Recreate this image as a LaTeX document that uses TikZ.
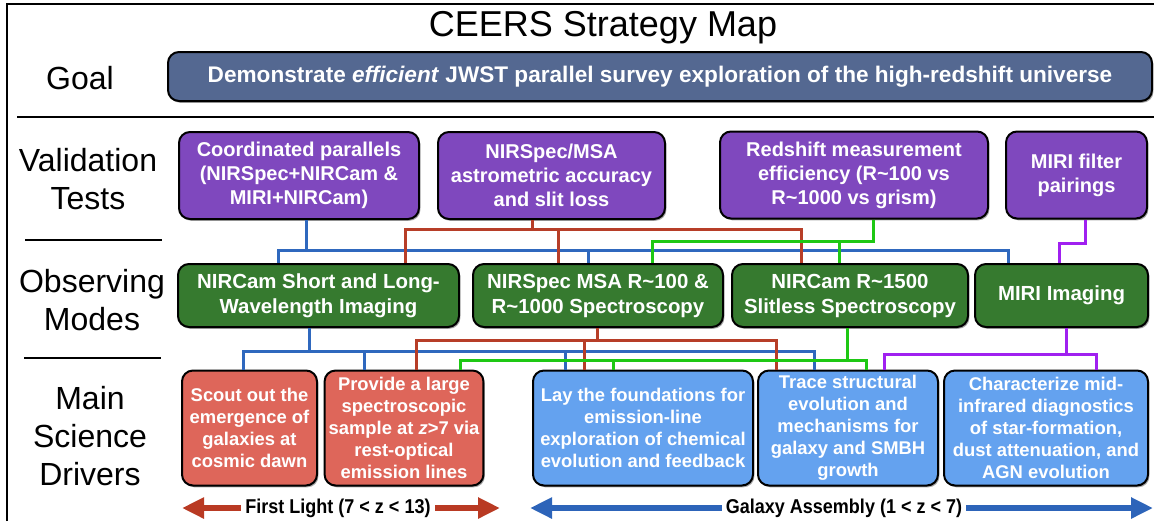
\documentclass[tikz,border=0pt]{standalone}
\usepackage{fontspec}
\setmainfont{Liberation Sans}
\newfontfamily\narrowfont[FakeStretch=0.9]{Liberation Sans}
\usetikzlibrary{arrows.meta, shadows, calc}
\definecolor{goalBlue}{RGB}{84,104,145}
\definecolor{valPurple}{RGB}{127,72,190}
\definecolor{modeGreen}{RGB}{54,122,47}
\definecolor{earlyRed}{RGB}{222,102,90}
\definecolor{lateBlue}{RGB}{100,162,239}
\definecolor{wireBlue}{RGB}{47,104,190}
\definecolor{wireRed}{RGB}{183,62,40}
\definecolor{wireGreen}{RGB}{30,200,20}
\definecolor{wirePurple}{RGB}{160,32,240}
\definecolor{arrowRed}{RGB}{185,58,35}
\definecolor{arrowBlue}{RGB}{45,100,185}
\tikzset{
    box/.style={draw=black, line width=1pt, rounded corners=5.5pt, text=white, align=center, inner sep=2pt,
        drop shadow={shadow xshift=0.7pt, shadow yshift=-0.9pt, opacity=0.35, fill=black}},
    goalBox/.style={box, fill=goalBlue, font=\bfseries\fontsize{11.3}{13.5}\selectfont},
    valBox/.style={box, fill=valPurple, minimum height=43.5pt, font=\bfseries\fontsize{10}{12}\selectfont},
    modeBox/.style={box, fill=modeGreen, minimum height=31.5pt, font=\bfseries\fontsize{10.2}{12.5}\selectfont},
    earlyBox/.style={box, fill=earlyRed, minimum height=57.5pt, font=\bfseries\fontsize{9.2}{11}\selectfont},
    lateBox/.style={box, fill=lateBlue, minimum height=57.5pt, font=\bfseries\fontsize{9.2}{11}\selectfont},
    rowLabel/.style={align=center, font=\fontsize{16}{19}\selectfont},
    rowRule/.style={line width=1pt},
    wire/.style={line width=1.5pt},
    eraArrow/.style={line width=3pt, {Triangle[length=11pt,width=10pt]}-{Triangle[length=11pt,width=10pt]}},
    eraLabel/.style={fill=white, inner sep=2pt, font=\narrowfont\bfseries\fontsize{10}{12}\selectfont},
}
% one wire: down from a box, along a bus, down into the next box
\newcommand{\busLink}[6]{
    \draw[wire, draw=#1] (#2.south -| #3,0) -- (#3,#4) -| (#5.north -| #6,0);
}

\begin{document}
\begin{tikzpicture}[x=0.5pt, y=-0.5pt]
    \useasboundingbox (0,0) rectangle (1154,521);

    % frame and rules
    \draw[line width=1pt] (7,521) -- (7,4) -- (1154,4);
    \draw[rowRule] (17,117) -- (1154,117);
    \draw[rowRule] (25,240) -- (162,240);
    \draw[rowRule] (24,358) -- (161,358);

    \node[font=\fontsize{18}{22}\selectfont] (title) at (603,28) {CEERS Strategy Map};

    % row labels
    \node[rowLabel] (goalLab) at (80,78) {Goal};
    \node[rowLabel] (valLab) at (88,179) {Validation\\Tests};
    \node[rowLabel] (modeLab) at (92,300) {Observing\\Modes};
    \node[rowLabel] (sciLab) at (90,436) {Main\\Science\\Drivers};

    % goal
    \node[goalBox, minimum width=492pt, minimum height=24.5pt] (goal) at (660,76.5)
        {Demonstrate \textit{efficient} JWST parallel survey exploration of the high-redshift universe};

    % validation tests
    \node[valBox, minimum width=120pt] (V1) at (299,175.5) {Coordinated parallels\\(NIRSpec+NIRCam \&\\MIRI+NIRCam)};
    \node[valBox, minimum width=113.5pt] (V2) at (551.5,175.5) {NIRSpec/MSA\\astrometric accuracy\\and slit loss};
    \node[valBox, minimum width=134pt] (V3) at (854,175) {Redshift measurement\\efficiency (R\textasciitilde100 vs\\R\textasciitilde1000 vs grism)};
    \node[valBox, minimum width=70.5pt] (V4) at (1076.5,175) {MIRI filter\\pairings};

    % observing modes
    \node[modeBox, minimum width=140.5pt] (O1) at (318.5,295.5) {NIRCam Short and Long-\\Wavelength Imaging};
    \node[modeBox, minimum width=125pt] (O2) at (598,295.5) {NIRSpec MSA R\textasciitilde100 \&\\R\textasciitilde1000 Spectroscopy};
    \node[modeBox, minimum width=118pt] (O3) at (850,295.5) {NIRCam R\textasciitilde1500\\Slitless Spectroscopy};
    \node[modeBox, minimum width=86.5pt] (O4) at (1061.5,295.5) {MIRI Imaging};

    % science drivers
    \node[earlyBox, minimum width=67.5pt] (S1) at (249.5,428) {Scout out the\\emergence of\\galaxies at\\cosmic dawn};
    \node[earlyBox, minimum width=78pt] (S2) at (404,428) {Provide a large\\spectroscopic\\sample at \textit{z}>7 via\\rest-optical\\emission lines};
    \node[lateBox, minimum width=110pt] (S3) at (643,428) {Lay the foundations for\\emission-line\\exploration of chemical\\evolution and feedback};
    \node[lateBox, minimum width=90pt] (S4) at (848,428) {Trace structural\\evolution and\\mechanisms for\\galaxy and SMBH\\growth};
    \node[lateBox, minimum width=102pt] (S5) at (1046,428) {Characterize mid-\\infrared diagnostics\\of star-formation,\\dust attenuation, and\\AGN evolution};

    % tests -> modes
    \foreach \x/\t in {278/O1, 588/O2, 1008/O4} {\busLink{wireBlue}{V1}{306}{250}{\t}{\x}}
    \foreach \x/\t in {405/O1, 558/O2, 801/O3} {\busLink{wireRed}{V2}{532}{229}{\t}{\x}}
    \foreach \x/\t in {652/O2, 839/O3} {\busLink{wireGreen}{V3}{873}{241}{\t}{\x}}
    \busLink{wirePurple}{V4}{1085}{243}{O4}{1059}

    % modes -> drivers
    \foreach \x/\t in {243/S1, 364/S2, 565/S3, 814/S4} {\busLink{wireBlue}{O1}{309}{351}{\t}{\x}}
    \foreach \x/\t in {416/S2, 584/S3, 776/S4} {\busLink{wireRed}{O2}{597}{340}{\t}{\x}}
    \foreach \x/\t in {460/S2, 613/S3, 866/S4} {\busLink{wireGreen}{O3}{847}{360}{\t}{\x}}
    \foreach \x/\t in {884/S4, 1096/S5} {\busLink{wirePurple}{O4}{1066}{354}{\t}{\x}}

    % epochs
    \coordinate (flLeft) at (182,508);
    \coordinate (flRight) at (500,508);
    \coordinate (gaLeft) at (530,508);
    \coordinate (gaRight) at (1153,508);
    \draw[eraArrow, draw=arrowRed] (flLeft) -- (flRight);
    \draw[eraArrow, draw=arrowBlue] (gaLeft) -- (gaRight);
    \node[eraLabel] (firstLight) at (338,508) {First Light (7 < z < 13)};
    \node[eraLabel] (galAssembly) at (844,508) {Galaxy Assembly (1 < z < 7)};

\end{tikzpicture}
\end{document}
